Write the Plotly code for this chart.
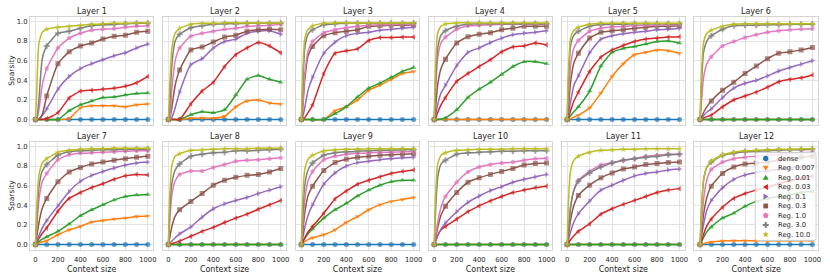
import math
import plotly.graph_objects as go

# ---------------- data ----------------
CONTEXT = [0, 100, 200, 300, 400, 500, 600, 700, 800, 900, 1000]
EARLY_CONTEXT = [10, 30, 60]          # extra line-only points read near the steep start
SERIES = ["dense", "Reg. 0.007", "Reg. 0.01", "Reg. 0.03", "Reg. 0.1",
          "Reg. 0.3", "Reg. 1.0", "Reg. 3.0", "Reg. 10.0"]
X_TICKS = [0, 200, 400, 600, 800, 1000]
X_TICK_LABELS = ["0", "200", "400", "600", "800", "1000"]
Y_TICKS = [0.0, 0.2, 0.4, 0.6, 0.8, 1.0]
Y_TICK_LABELS = ["0.0", "0.2", "0.4", "0.6", "0.8", "1.0"]
LAYER_TITLES = ["Layer 1", "Layer 2", "Layer 3", "Layer 4", "Layer 5", "Layer 6",
                "Layer 7", "Layer 8", "Layer 9", "Layer 10", "Layer 11", "Layer 12"]

ZERO = [0, 0, 0, 0, 0, 0, 0, 0, 0, 0, 0]
ZERO_E = [0, 0, 0]

# series order: dense, 0.007, 0.01, 0.03, 0.1, 0.3, 1.0, 3.0, 10.0
LAYER1 = [ZERO,
          [0, 0, 0, 0.01, 0.12, 0.14, 0.14, 0.14, 0.13, 0.15, 0.16],
          [0, 0, 0, 0.09, 0.15, 0.19, 0.225, 0.23, 0.25, 0.265, 0.27],
          [0, 0.01, 0.07, 0.22, 0.29, 0.30, 0.31, 0.32, 0.34, 0.375, 0.44],
          [0, 0.11, 0.31, 0.44, 0.52, 0.57, 0.61, 0.65, 0.68, 0.73, 0.77],
          [0, 0.24, 0.57, 0.69, 0.75, 0.78, 0.82, 0.85, 0.86, 0.89, 0.90],
          [0, 0.52, 0.73, 0.83, 0.88, 0.91, 0.92, 0.925, 0.94, 0.95, 0.955],
          [0, 0.75, 0.88, 0.90, 0.93, 0.955, 0.965, 0.97, 0.975, 0.98, 0.98],
          [0, 0.92, 0.94, 0.95, 0.96, 0.97, 0.975, 0.98, 0.98, 0.985, 0.985]]
LAYER1_EARLY = [ZERO_E, ZERO_E, ZERO_E, ZERO_E,
                [0, 0.01, 0.04], [0, 0.005, 0.05], [0, 0.1, 0.35],
                [0, 0.2, 0.62], [0.25, 0.78, 0.89]]

LAYER2 = [ZERO,
          [0, 0, 0.014, 0.017, 0.014, 0.034, 0.13, 0.19, 0.20, 0.17, 0.16],
          [0, 0, 0.05, 0.08, 0.07, 0.10, 0.25, 0.41, 0.45, 0.41, 0.38],
          [0, 0, 0.16, 0.29, 0.38, 0.54, 0.66, 0.73, 0.785, 0.75, 0.68],
          [0, 0.28, 0.56, 0.62, 0.73, 0.795, 0.82, 0.88, 0.90, 0.905, 0.87],
          [0, 0.505, 0.71, 0.74, 0.79, 0.84, 0.86, 0.90, 0.915, 0.92, 0.915],
          [0, 0.73, 0.85, 0.88, 0.90, 0.92, 0.93, 0.95, 0.955, 0.96, 0.97],
          [0, 0.87, 0.935, 0.955, 0.97, 0.975, 0.975, 0.98, 0.98, 0.98, 0.98],
          [0, 0.93, 0.97, 0.98, 0.98, 0.985, 0.985, 0.985, 0.985, 0.985, 0.985]]
LAYER2_EARLY = [ZERO_E, ZERO_E, ZERO_E, ZERO_E,
                [0, 0.02, 0.12], [0, 0.12, 0.35], [0, 0.3, 0.6],
                [0.1, 0.55, 0.8], [0.3, 0.72, 0.88]]

LAYER3 = [ZERO,
          [0, 0, 0, 0.09, 0.13, 0.20, 0.30, 0.35, 0.41, 0.47, 0.49],
          [0, 0, 0, 0.06, 0.13, 0.23, 0.32, 0.37, 0.43, 0.49, 0.53],
          [0, 0.15, 0.47, 0.675, 0.70, 0.72, 0.805, 0.835, 0.835, 0.84, 0.84],
          [0, 0.43, 0.675, 0.79, 0.855, 0.88, 0.89, 0.91, 0.92, 0.93, 0.94],
          [0, 0.745, 0.855, 0.885, 0.90, 0.915, 0.95, 0.955, 0.96, 0.96, 0.965],
          [0, 0.795, 0.885, 0.915, 0.935, 0.95, 0.96, 0.965, 0.965, 0.97, 0.97],
          [0, 0.915, 0.965, 0.975, 0.98, 0.98, 0.98, 0.98, 0.98, 0.98, 0.98],
          [0, 0.955, 0.98, 0.985, 0.985, 0.985, 0.985, 0.985, 0.985, 0.985, 0.985]]
LAYER3_EARLY = [ZERO_E, ZERO_E, ZERO_E, [0, 0.02, 0.07],
                [0.02, 0.12, 0.3], [0.08, 0.4, 0.65], [0.1, 0.45, 0.7],
                [0.25, 0.72, 0.87], [0.4, 0.82, 0.92]]

LAYER4 = [ZERO, ZERO,
          [0, 0.017, 0.10, 0.225, 0.31, 0.38, 0.46, 0.54, 0.59, 0.59, 0.57],
          [0, 0.225, 0.39, 0.47, 0.54, 0.61, 0.69, 0.74, 0.75, 0.78, 0.76],
          [0, 0.35, 0.55, 0.685, 0.73, 0.785, 0.83, 0.865, 0.88, 0.89, 0.905],
          [0, 0.615, 0.78, 0.845, 0.87, 0.885, 0.915, 0.93, 0.95, 0.95, 0.95],
          [0, 0.84, 0.92, 0.955, 0.96, 0.965, 0.97, 0.97, 0.97, 0.97, 0.97],
          [0, 0.905, 0.95, 0.97, 0.975, 0.975, 0.975, 0.975, 0.975, 0.975, 0.975],
          [0, 0.975, 0.985, 0.985, 0.985, 0.985, 0.985, 0.985, 0.985, 0.985, 0.985]]
LAYER4_EARLY = [ZERO_E, ZERO_E, [0, 0, 0.005], [0.01, 0.07, 0.15],
                [0.03, 0.15, 0.27], [0.1, 0.35, 0.52], [0.25, 0.62, 0.78],
                [0.35, 0.72, 0.86], [0.5, 0.88, 0.95]]

LAYER5 = [ZERO,
          [0, 0.045, 0.12, 0.27, 0.44, 0.57, 0.66, 0.685, 0.71, 0.70, 0.675],
          [0, 0.13, 0.29, 0.545, 0.685, 0.725, 0.745, 0.77, 0.795, 0.80, 0.78],
          [0, 0.28, 0.49, 0.635, 0.71, 0.755, 0.795, 0.82, 0.83, 0.84, 0.845],
          [0, 0.445, 0.68, 0.82, 0.855, 0.875, 0.89, 0.90, 0.915, 0.92, 0.93],
          [0, 0.675, 0.83, 0.89, 0.905, 0.915, 0.93, 0.94, 0.95, 0.95, 0.955],
          [0, 0.805, 0.90, 0.93, 0.945, 0.95, 0.955, 0.96, 0.96, 0.965, 0.965],
          [0, 0.90, 0.95, 0.965, 0.97, 0.97, 0.975, 0.975, 0.975, 0.975, 0.975],
          [0, 0.94, 0.97, 0.98, 0.98, 0.98, 0.98, 0.98, 0.98, 0.98, 0.98]]
LAYER5_EARLY = [ZERO_E, [0, 0.01, 0.025], [0.01, 0.04, 0.08], [0.02, 0.09, 0.19],
                [0.04, 0.18, 0.35], [0.1, 0.38, 0.58], [0.2, 0.55, 0.73],
                [0.35, 0.75, 0.86], [0.45, 0.83, 0.91]]

LAYER6 = [ZERO, ZERO, ZERO,
          [0, 0.045, 0.13, 0.20, 0.24, 0.28, 0.33, 0.385, 0.41, 0.425, 0.455],
          [0, 0.11, 0.225, 0.32, 0.37, 0.40, 0.445, 0.495, 0.53, 0.565, 0.60],
          [0, 0.19, 0.30, 0.38, 0.47, 0.545, 0.62, 0.675, 0.69, 0.71, 0.735],
          [0, 0.64, 0.75, 0.795, 0.835, 0.865, 0.89, 0.905, 0.915, 0.92, 0.925],
          [0, 0.855, 0.92, 0.955, 0.96, 0.96, 0.965, 0.965, 0.97, 0.97, 0.97],
          [0, 0.91, 0.95, 0.97, 0.975, 0.975, 0.975, 0.975, 0.975, 0.975, 0.975]]
LAYER6_EARLY = [ZERO_E, ZERO_E, ZERO_E, [0, 0.015, 0.03],
                [0.01, 0.04, 0.075], [0.02, 0.07, 0.13], [0.15, 0.42, 0.57],
                [0.3, 0.68, 0.8], [0.4, 0.78, 0.88]]

LAYER7 = [ZERO,
          [0, 0.04, 0.10, 0.15, 0.185, 0.23, 0.245, 0.26, 0.27, 0.285, 0.29],
          [0, 0.08, 0.135, 0.21, 0.295, 0.355, 0.405, 0.455, 0.49, 0.505, 0.51],
          [0, 0.17, 0.34, 0.47, 0.53, 0.58, 0.62, 0.665, 0.70, 0.715, 0.71],
          [0, 0.245, 0.395, 0.54, 0.645, 0.705, 0.745, 0.78, 0.81, 0.83, 0.84],
          [0, 0.47, 0.64, 0.74, 0.785, 0.82, 0.84, 0.86, 0.875, 0.89, 0.90],
          [0, 0.725, 0.865, 0.915, 0.93, 0.935, 0.94, 0.945, 0.95, 0.955, 0.955],
          [0, 0.815, 0.91, 0.945, 0.955, 0.96, 0.965, 0.965, 0.97, 0.97, 0.97],
          [0, 0.875, 0.94, 0.96, 0.97, 0.975, 0.975, 0.98, 0.98, 0.98, 0.98]]
LAYER7_EARLY = [ZERO_E, [0.005, 0.015, 0.028], [0.01, 0.03, 0.055], [0.02, 0.06, 0.115],
                [0.03, 0.09, 0.17], [0.07, 0.22, 0.37], [0.15, 0.45, 0.64],
                [0.25, 0.58, 0.75], [0.35, 0.7, 0.83]]

LAYER8 = [ZERO, ZERO, ZERO,
          [0, 0.035, 0.085, 0.135, 0.175, 0.225, 0.27, 0.31, 0.36, 0.405, 0.45],
          [0, 0.11, 0.18, 0.28, 0.365, 0.415, 0.45, 0.48, 0.52, 0.555, 0.59],
          [0, 0.355, 0.44, 0.52, 0.605, 0.655, 0.685, 0.705, 0.715, 0.74, 0.775],
          [0, 0.715, 0.75, 0.75, 0.785, 0.815, 0.85, 0.86, 0.865, 0.875, 0.885],
          [0, 0.82, 0.90, 0.92, 0.935, 0.94, 0.955, 0.955, 0.96, 0.965, 0.97],
          [0, 0.925, 0.96, 0.965, 0.97, 0.975, 0.975, 0.975, 0.98, 0.98, 0.98]]
LAYER8_EARLY = [ZERO_E, ZERO_E, ZERO_E, [0.003, 0.01, 0.02],
                [0.01, 0.035, 0.07], [0.06, 0.18, 0.29], [0.2, 0.5, 0.65],
                [0.3, 0.62, 0.76], [0.45, 0.8, 0.9]]

LAYER9 = [ZERO,
          [0, 0.07, 0.10, 0.15, 0.225, 0.285, 0.355, 0.405, 0.44, 0.46, 0.48],
          [0, 0.16, 0.27, 0.355, 0.42, 0.495, 0.555, 0.605, 0.64, 0.655, 0.655],
          [0, 0.185, 0.32, 0.465, 0.545, 0.615, 0.655, 0.69, 0.725, 0.745, 0.76],
          [0, 0.405, 0.615, 0.73, 0.80, 0.835, 0.85, 0.865, 0.875, 0.885, 0.89],
          [0, 0.595, 0.755, 0.835, 0.87, 0.89, 0.90, 0.91, 0.915, 0.92, 0.925],
          [0, 0.745, 0.865, 0.90, 0.92, 0.93, 0.935, 0.94, 0.94, 0.945, 0.945],
          [0, 0.83, 0.91, 0.935, 0.945, 0.95, 0.955, 0.96, 0.96, 0.965, 0.965],
          [0, 0.91, 0.955, 0.965, 0.97, 0.97, 0.975, 0.975, 0.975, 0.975, 0.975]]
LAYER9_EARLY = [ZERO_E, [0.01, 0.03, 0.05], [0.02, 0.06, 0.11], [0.02, 0.07, 0.13],
                [0.05, 0.17, 0.3], [0.1, 0.32, 0.5], [0.15, 0.45, 0.65],
                [0.25, 0.6, 0.76], [0.4, 0.76, 0.87]]

LAYER10 = [ZERO, ZERO, ZERO,
           [0, 0.185, 0.26, 0.335, 0.395, 0.445, 0.49, 0.53, 0.555, 0.58, 0.595],
           [0, 0.22, 0.335, 0.43, 0.495, 0.55, 0.59, 0.635, 0.665, 0.69, 0.715],
           [0, 0.39, 0.53, 0.635, 0.68, 0.715, 0.745, 0.775, 0.81, 0.825, 0.83],
           [0, 0.49, 0.635, 0.74, 0.79, 0.815, 0.83, 0.84, 0.86, 0.875, 0.88],
           [0, 0.86, 0.92, 0.935, 0.94, 0.945, 0.95, 0.95, 0.955, 0.955, 0.955],
           [0, 0.935, 0.96, 0.965, 0.97, 0.97, 0.97, 0.975, 0.975, 0.975, 0.975]]
LAYER10_EARLY = [ZERO_E, ZERO_E, ZERO_E, [0.03, 0.09, 0.15],
                 [0.03, 0.09, 0.16], [0.05, 0.17, 0.3], [0.07, 0.22, 0.38],
                 [0.3, 0.68, 0.82], [0.45, 0.82, 0.91]]

LAYER11 = [ZERO, ZERO, ZERO,
           [0, 0.135, 0.21, 0.31, 0.365, 0.41, 0.45, 0.49, 0.53, 0.555, 0.57],
           [0, 0.315, 0.445, 0.555, 0.605, 0.655, 0.70, 0.725, 0.74, 0.76, 0.77],
           [0, 0.50, 0.605, 0.68, 0.73, 0.77, 0.79, 0.815, 0.825, 0.835, 0.84],
           [0, 0.655, 0.745, 0.81, 0.835, 0.86, 0.875, 0.90, 0.91, 0.92, 0.92],
           [0, 0.645, 0.73, 0.79, 0.83, 0.86, 0.875, 0.89, 0.90, 0.915, 0.92],
           [0, 0.90, 0.94, 0.96, 0.965, 0.97, 0.97, 0.975, 0.975, 0.975, 0.975]]
LAYER11_EARLY = [ZERO_E, ZERO_E, ZERO_E, [0.015, 0.05, 0.09],
                 [0.04, 0.13, 0.23], [0.08, 0.25, 0.4], [0.12, 0.38, 0.56],
                 [0.12, 0.38, 0.55], [0.4, 0.75, 0.86]]

LAYER12 = [ZERO,
           [0, 0.027, 0.037, 0.04, 0.04, 0.04, 0.04, 0.04, 0.04, 0.04, 0.04],
           [0, 0.18, 0.27, 0.32, 0.39, 0.44, 0.47, 0.49, 0.51, 0.53, 0.54],
           [0, 0.26, 0.38, 0.47, 0.52, 0.555, 0.585, 0.62, 0.65, 0.675, 0.70],
           [0, 0.45, 0.58, 0.665, 0.71, 0.735, 0.75, 0.77, 0.78, 0.79, 0.80],
           [0, 0.595, 0.725, 0.79, 0.82, 0.83, 0.84, 0.86, 0.875, 0.89, 0.90],
           [0, 0.765, 0.84, 0.875, 0.89, 0.90, 0.91, 0.92, 0.93, 0.935, 0.94],
           [0, 0.84, 0.91, 0.93, 0.945, 0.95, 0.955, 0.96, 0.965, 0.965, 0.97],
           [0, 0.85, 0.915, 0.94, 0.955, 0.96, 0.965, 0.97, 0.97, 0.975, 0.975]]
LAYER12_EARLY = [ZERO_E, [0.003, 0.01, 0.018], [0.02, 0.07, 0.13], [0.03, 0.1, 0.19],
                 [0.06, 0.2, 0.35], [0.1, 0.3, 0.48], [0.15, 0.45, 0.66],
                 [0.3, 0.65, 0.79], [0.3, 0.65, 0.79]]

LAYERS = [LAYER1, LAYER2, LAYER3, LAYER4, LAYER5, LAYER6,
          LAYER7, LAYER8, LAYER9, LAYER10, LAYER11, LAYER12]
LAYERS_EARLY = [LAYER1_EARLY, LAYER2_EARLY, LAYER3_EARLY, LAYER4_EARLY, LAYER5_EARLY,
                LAYER6_EARLY, LAYER7_EARLY, LAYER8_EARLY, LAYER9_EARLY, LAYER10_EARLY,
                LAYER11_EARLY, LAYER12_EARLY]

# ---------------- style ----------------
COLORS = ["#1f77b4", "#ff7f0e", "#2ca02c", "#d62728", "#9467bd",
          "#8c564b", "#e377c2", "#7f7f7f", "#bcbd22"]
SYMBOLS = ["circle", "triangle-down", "triangle-up", "triangle-left", "triangle-right",
           "square", "pentagon", "cross", "star"]
W, H = 830, 277
COL_LEFT = [30, 163.4, 296.8, 430.2, 563.6, 697]
PLOT_W = 124
ROW_TOP = [16.5, 141.5]
PLOT_H = 108
FONT = "DejaVu Sans"
TXT = "#262626"
GRID = "#e3e3e3"
FRAME = "#d4d4d4"
MS = 5

fig = go.Figure()
layout = {}
annotations = []

for li in range(12):
    r, c = divmod(li, 6)
    n = li + 1
    xname = "x" if n == 1 else f"x{n}"
    yname = "y" if n == 1 else f"y{n}"
    left = COL_LEFT[c]
    top = ROW_TOP[r]
    layout["xaxis" if n == 1 else f"xaxis{n}"] = dict(
        domain=[left / W, (left + PLOT_W) / W], anchor=yname,
        range=[-50, 1050], tickvals=X_TICKS, ticktext=X_TICK_LABELS,
        showticklabels=(r == 1), showgrid=True, gridcolor=GRID, gridwidth=1,
        zeroline=False, showline=True, linecolor=FRAME, linewidth=1, mirror=True,
        ticks="outside", ticklen=3, tickcolor="rgba(0,0,0,0)",
        tickfont=dict(size=6.8, color=TXT, family=FONT),
        title=dict(text="Context size" if r == 1 else "", standoff=3,
                   font=dict(size=8, color=TXT, family=FONT)),
    )
    layout["yaxis" if n == 1 else f"yaxis{n}"] = dict(
        domain=[1 - (top + PLOT_H) / H, 1 - top / H], anchor=xname,
        range=[-0.05, 1.05], tickvals=Y_TICKS, ticktext=Y_TICK_LABELS,
        showticklabels=(c == 0), showgrid=True, gridcolor=GRID, gridwidth=1,
        zeroline=False, showline=True, linecolor=FRAME, linewidth=1, mirror=True,
        ticks="", tickfont=dict(size=6.8, color=TXT, family=FONT),
        title=dict(text="Sparsity" if c == 0 else "", standoff=1,
                   font=dict(size=7.5, color=TXT, family=FONT)),
    )
    annotations.append(dict(
        text=LAYER_TITLES[li], xref="paper", yref="paper",
        x=(left + PLOT_W / 2) / W, y=1 - (top - 5.0) / H,
        xanchor="center", yanchor="middle", showarrow=False,
        font=dict(size=8, color=TXT, family=FONT)))

    for si in range(9):
        vals = LAYERS[li][si]
        early = LAYERS_EARLY[li][si]
        xs = [CONTEXT[0]] + EARLY_CONTEXT + CONTEXT[1:]
        ys = [vals[0]] + early + vals[1:]
        sizes = [MS] + [0] * len(EARLY_CONTEXT) + [MS] * (len(CONTEXT) - 1)
        fig.add_trace(go.Scatter(
            x=xs, y=ys, mode="lines+markers", xaxis=xname, yaxis=yname,
            line=dict(color=COLORS[si], width=1.5, shape="spline", smoothing=0.5),
            marker=dict(symbol=SYMBOLS[si], size=sizes, color=COLORS[si],
                        line=dict(width=0)),
            showlegend=False, hoverinfo="skip"))

# ---------------- compact legend drawn inside Layer 12 ----------------
LEG_L, LEG_R, LEG_T, LEG_B = 758, 819, 152.5, 240.5
ROW0, ROW_STEP = 158.5, 9.5
MARK_X, TEXT_X = 768.5, 779


def pp(x, y):
    return f"{x / W:.5f},{1 - y / H:.5f}"


def poly(pts):
    return "M" + "L".join(pp(x, y) for x, y in pts) + "Z"


def glyph(sym, cx, cy):
    if sym == "triangle-down":
        return poly([(cx - 3, cy - 2.2), (cx + 3, cy - 2.2), (cx, cy + 2.8)])
    if sym == "triangle-up":
        return poly([(cx - 3, cy + 2.2), (cx + 3, cy + 2.2), (cx, cy - 2.8)])
    if sym == "triangle-left":
        return poly([(cx + 2.2, cy - 3), (cx + 2.2, cy + 3), (cx - 2.8, cy)])
    if sym == "triangle-right":
        return poly([(cx - 2.2, cy - 3), (cx - 2.2, cy + 3), (cx + 2.8, cy)])
    if sym == "square":
        return poly([(cx - 2.4, cy - 2.4), (cx + 2.4, cy - 2.4), (cx + 2.4, cy + 2.4), (cx - 2.4, cy + 2.4)])
    if sym == "pentagon":
        return poly([(cx + 3 * math.cos(math.radians(-90 + 72 * k)),
                      cy + 3 * math.sin(math.radians(-90 + 72 * k))) for k in range(5)])
    if sym == "cross":
        a, b = 1.0, 3.0
        return poly([(cx - a, cy - b), (cx + a, cy - b), (cx + a, cy - a), (cx + b, cy - a),
                     (cx + b, cy + a), (cx + a, cy + a), (cx + a, cy + b), (cx - a, cy + b),
                     (cx - a, cy + a), (cx - b, cy + a), (cx - b, cy - a), (cx - a, cy - a)])
    pts = []
    for k in range(10):
        rad = 3.4 if k % 2 == 0 else 1.4
        ang = math.radians(-90 + 36 * k)
        pts.append((cx + rad * math.cos(ang), cy + rad * math.sin(ang)))
    return poly(pts)


rr = 2.0
box_path = (f"M{pp(LEG_L + rr, LEG_T)}L{pp(LEG_R - rr, LEG_T)}Q{pp(LEG_R, LEG_T)} {pp(LEG_R, LEG_T + rr)}"
            f"L{pp(LEG_R, LEG_B - rr)}Q{pp(LEG_R, LEG_B)} {pp(LEG_R - rr, LEG_B)}"
            f"L{pp(LEG_L + rr, LEG_B)}Q{pp(LEG_L, LEG_B)} {pp(LEG_L, LEG_B - rr)}"
            f"L{pp(LEG_L, LEG_T + rr)}Q{pp(LEG_L, LEG_T)} {pp(LEG_L + rr, LEG_T)}Z")
shapes = [dict(type="path", xref="paper", yref="paper", path=box_path,
               fillcolor="rgba(255,255,255,0.8)", line=dict(color="#d0d0d0", width=1),
               layer="above")]
for i, name in enumerate(SERIES):
    cy = ROW0 + ROW_STEP * i
    if SYMBOLS[i] == "circle":
        k = 2.7
        shapes.append(dict(type="circle", xref="paper", yref="paper",
                           x0=(MARK_X - k) / W, x1=(MARK_X + k) / W,
                           y0=1 - (cy + k) / H, y1=1 - (cy - k) / H,
                           fillcolor=COLORS[i], line=dict(width=0), layer="above"))
    else:
        shapes.append(dict(type="path", xref="paper", yref="paper",
                           path=glyph(SYMBOLS[i], MARK_X, cy),
                           fillcolor=COLORS[i], line=dict(width=0), layer="above"))
    annotations.append(dict(text=name, xref="paper", yref="paper",
                            x=TEXT_X / W, y=1 - cy / H, xanchor="left", yanchor="middle",
                            showarrow=False, font=dict(size=6.8, color=TXT, family=FONT)))

fig.update_layout(
    width=W, height=H, margin=dict(l=0, r=0, t=0, b=0),
    paper_bgcolor="white", plot_bgcolor="white",
    font=dict(family=FONT, color=TXT, size=7),
    annotations=annotations,
    shapes=shapes,
    showlegend=False,
    **layout,
)

fig.write_html("out.html", config={"displayModeBar": False},
               post_script="document.body.style.margin='0';document.body.style.padding='0';")
